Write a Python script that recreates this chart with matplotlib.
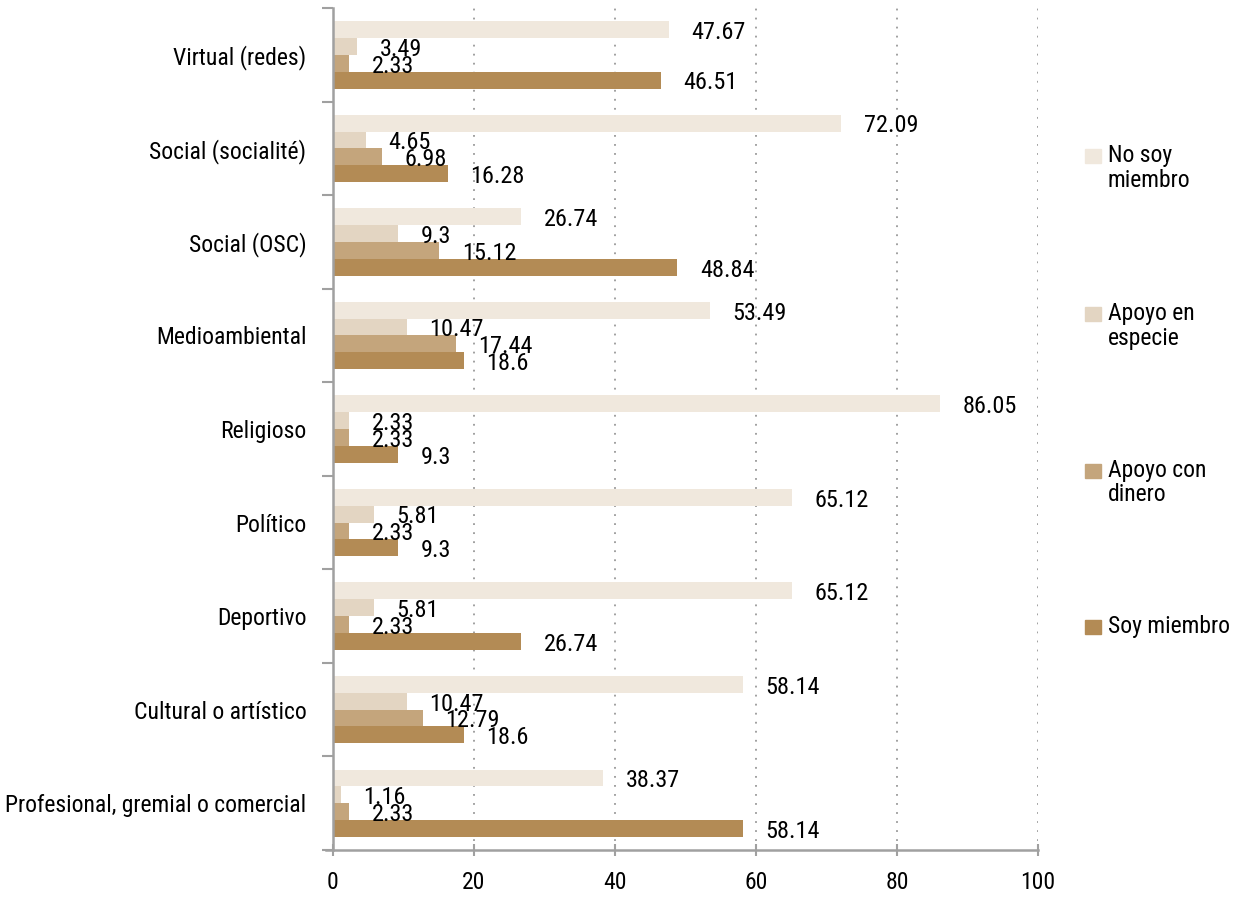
import numpy as np
import matplotlib
matplotlib.use('Agg')
import matplotlib.pyplot as plt
from matplotlib.patches import Rectangle
from matplotlib import font_manager

names = set(f.name for f in font_manager.fontManager.ttflist)
fam = [f for f in ['DejaVu Sans Condensed', 'Liberation Sans Narrow', 'Roboto Condensed', 'Roboto'] if f in names]
plt.rcParams['font.family'] = fam + ['DejaVu Sans']

categories = ['Virtual (redes)', 'Social (socialité)', 'Social (OSC)', 'Medioambiental',
              'Religioso', 'Político', 'Deportivo', 'Cultural o artístico',
              'Profesional, gremial o comercial']
series = ['No soy miembro', 'Apoyo en especie', 'Apoyo con dinero', 'Soy miembro']
legend_labels = ['No soy\nmiembro', 'Apoyo en\nespecie', 'Apoyo con\ndinero', 'Soy miembro']
no_soy = [47.67, 72.09, 26.74, 53.49, 86.05, 65.12, 65.12, 58.14, 38.37]
especie = [3.49, 4.65, 9.3, 10.47, 2.33, 5.81, 5.81, 10.47, 1.16]
dinero = [2.33, 6.98, 15.12, 17.44, 2.33, 2.33, 2.33, 12.79, 2.33]
soy = [46.51, 16.28, 48.84, 18.6, 9.3, 9.3, 26.74, 18.6, 58.14]
colors = ['#F0E8DD', '#E3D5C2', '#C4A57C', '#B38B55']
xticks = [0, 20, 40, 60, 80, 100]

values = [no_soy, especie, dinero, soy]

fig = plt.figure(figsize=(12.42, 9), dpi=100)
ax = fig.add_axes([0.268, 0.0556, 0.5677, 0.9354])

n = len(categories)
ypos = np.arange(n)[::-1]
h = 0.18
offsets = [1.5 * h, 0.5 * h, -0.5 * h, -1.5 * h]

for vals, c, off in zip(values, colors, offsets):
    ax.barh(ypos + off, vals, height=h, color=c, zorder=2)
    for y, v in zip(ypos, vals):
        ax.text(v + 3.2, y + off - 0.03, f'{v:g}', ha='left', va='center',
                fontsize=17.5, color='black', zorder=3)

ax.set_xlim(0, 100)
ax.set_ylim(-0.5, n - 0.5)
ax.set_xticks(xticks)
ax.set_xticklabels([str(t) for t in xticks], fontsize=17)
ax.xaxis.grid(True, linestyle=(0, (1, 4)), color='#999999', linewidth=1.3, zorder=0)

# category labels at centres, tick marks at the boundaries
ax.set_yticks(ypos)
ax.set_yticklabels(categories, fontsize=17)
ax.tick_params(axis='y', which='major', length=0, pad=19)
ax.set_yticks(np.arange(-0.5, n, 1), minor=True)
ax.tick_params(axis='y', which='minor', length=8, width=1.5, color='#A0A0A0', direction='out')
ax.tick_params(axis='x', length=8, width=1.5, color='#A0A0A0', direction='inout', pad=11)

for s in ['top', 'right']:
    ax.spines[s].set_visible(False)
for s in ['left', 'bottom']:
    ax.spines[s].set_color('#A0A0A0')
    ax.spines[s].set_linewidth(1.8)
ax.spines['bottom'].set_bounds(-1.0, 100)

# legend at the right
leg_y = [0.8267, 0.651, 0.477, 0.3033]
for lab, c, y in zip(legend_labels, colors, leg_y):
    fig.add_artist(Rectangle((0.8736, y - 0.0078), 0.0125, 0.0156, transform=fig.transFigure,
                             color=c))
    fig.text(0.892, y + 0.0135, lab, ha='left', va='top', fontsize=17, linespacing=1.1)

fig.savefig('out.png', dpi=100)
